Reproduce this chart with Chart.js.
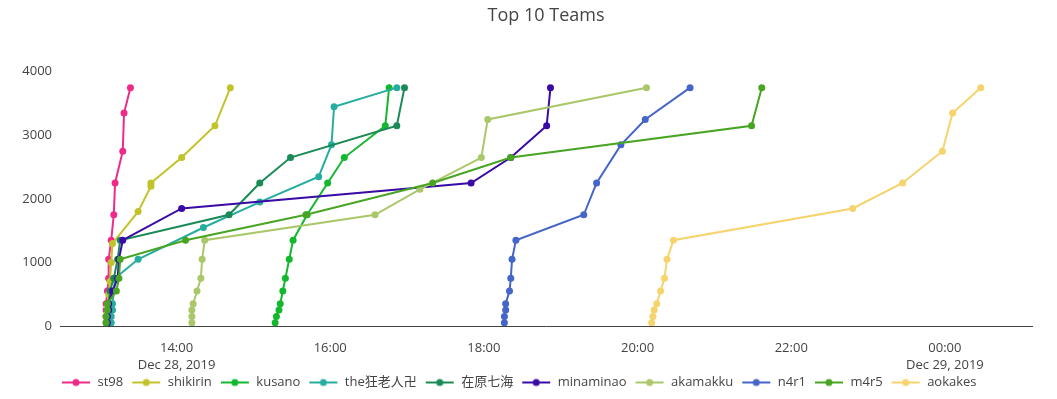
<!DOCTYPE html>
<html>
<head>
<meta charset="utf-8">
<title>Top 10 Teams</title>
<script src="https://cdn.jsdelivr.net/npm/chart.js@4/dist/chart.umd.min.js"></script>
<style>
  body { margin: 0; background: #fff; }
  #wrap { width: 1057px; height: 399px; position: relative; }
</style>
</head>
<body>
<div id="wrap"><canvas id="chart"></canvas></div>
<script>
const FONT = "'Open Sans', 'Noto Sans CJK JP', sans-serif";

const titleText = 'Top 10 Teams';
const teams = ['st98', 'shikirin', 'kusano', 'the狂老人卍', '在原七海', 'minaminao', 'akamakku', 'n4r1', 'm4r5', 'aokakes'];
const colors = ['#ee2b88', '#c2c32a', '#14b82e', '#27ada0', '#1a8b56', '#3a0aa6', '#aac86a', '#4565c9', '#48a523', '#f6d36c'];

// solve times on Dec 28 2019 (hours >= 24 spill into Dec 29) and cumulative score
const st98Times = ['13:05', '13:05', '13:05', '13:05', '13:06', '13:07', '13:07', '13:09', '13:11', '13:12', '13:18', '13:19', '13:24'];
const st98Scores = [50, 150, 250, 350, 550, 750, 1050, 1350, 1750, 2250, 2750, 3350, 3750];

const shikirinTimes = ['13:06', '13:06', '13:06', '13:07', '13:08', '13:09', '13:10', '13:30', '13:40', '13:40', '14:04', '14:30', '14:42'];
const shikirinScores = [100, 200, 300, 500, 700, 1000, 1300, 1800, 2200, 2250, 2650, 3150, 3750];

const kusanoTimes = ['15:17', '15:18', '15:20', '15:21', '15:23', '15:25', '15:28', '15:31', '15:42', '15:58', '16:11', '16:43', '16:46'];
const kusanoScores = [50, 150, 250, 350, 550, 750, 1050, 1350, 1750, 2250, 2650, 3150, 3750];

const kyoroujinTimes = ['13:09', '13:09', '13:10', '13:10', '13:11', '13:12', '13:30', '14:21', '15:05', '15:51', '16:01', '16:03', '16:52'];
const kyoroujinScores = [50, 150, 250, 350, 550, 750, 1050, 1550, 1950, 2350, 2850, 3450, 3750];

const arimaTimes = ['13:06', '13:06', '13:07', '13:07', '13:08', '13:11', '13:14', '13:16', '14:41', '15:05', '15:29', '16:52', '16:58'];
const arimaScores = [50, 150, 250, 350, 550, 750, 1050, 1350, 1750, 2250, 2650, 3150, 3750];

const minaminaoTimes = ['13:06', '13:06', '13:07', '13:07', '13:10', '13:14', '13:15', '13:18', '14:04', '17:50', '18:21', '18:49', '18:52'];
const minaminaoScores = [50, 150, 250, 350, 550, 750, 1050, 1350, 1850, 2250, 2650, 3150, 3750];

const akamakkuTimes = ['14:12', '14:12', '14:12', '14:13', '14:16', '14:19', '14:20', '14:22', '16:35', '17:10', '17:58', '18:03', '20:07'];
const akamakkuScores = [50, 150, 250, 350, 550, 750, 1050, 1350, 1750, 2150, 2650, 3250, 3750];

const n4r1Times = ['18:16', '18:16', '18:17', '18:17', '18:20', '18:21', '18:22', '18:25', '19:18', '19:28', '19:47', '20:06', '20:41'];
const n4r1Scores = [50, 150, 250, 350, 550, 750, 1050, 1350, 1750, 2250, 2850, 3250, 3750];

const m4r5Times = ['13:05', '13:05', '13:06', '13:06', '13:13', '13:15', '13:16', '14:07', '15:41', '17:20', '18:21', '21:29', '21:37'];
const m4r5Scores = [50, 150, 250, 350, 550, 750, 1050, 1350, 1750, 2250, 2650, 3150, 3750];

const aokakesTimes = ['20:11', '20:12', '20:13', '20:15', '20:18', '20:21', '20:23', '20:28', '22:48', '23:27', '23:58', '24:06', '24:28'];
const aokakesScores = [50, 150, 250, 350, 550, 750, 1050, 1350, 1850, 2250, 2750, 3350, 3750];

const xTickTimes = ['14:00', '16:00', '18:00', '20:00', '22:00', '24:00'];
const xTickText = ['14:00', '16:00', '18:00', '20:00', '22:00', '00:00'];
const xTickDates = ['Dec 28, 2019', '', '', '', '', 'Dec 29, 2019'];
const yTicks = [0, 1000, 2000, 3000, 4000];

const allTimes = [st98Times, shikirinTimes, kusanoTimes, kyoroujinTimes, arimaTimes, minaminaoTimes, akamakkuTimes, n4r1Times, m4r5Times, aokakesTimes];
const allScores = [st98Scores, shikirinScores, kusanoScores, kyoroujinScores, arimaScores, minaminaoScores, akamakkuScores, n4r1Scores, m4r5Scores, aokakesScores];

// "HH:MM" -> minutes since Dec 28 00:00
function toMin(s) {
  const [h, m] = s.split(':').map(Number);
  return h * 60 + m;
}

// plotly style legend symbol: short line with a dot in the middle
function legendIcon(color) {
  const c = document.createElement('canvas');
  c.width = 34; c.height = 10;
  const g = c.getContext('2d');
  g.strokeStyle = color; g.lineWidth = 2;
  g.beginPath(); g.moveTo(5, 5); g.lineTo(33, 5); g.stroke();
  g.fillStyle = color;
  g.beginPath(); g.arc(19, 5, 3.5, 0, Math.PI * 2); g.fill();
  return c;
}

const datasets = teams.map((name, i) => ({
  label: name,
  data: allTimes[i].map((t, j) => ({ x: toMin(t), y: allScores[i][j] })),
  borderColor: colors[i],
  backgroundColor: colors[i],
  pointBackgroundColor: colors[i],
  borderWidth: 2,
  pointRadius: 3.5,
  pointBorderWidth: 0,
  tension: 0,
  order: teams.length - i   // later teams on top, like the original
}));

const legendShift = {
  id: 'legendShift',
  afterLayout(chart) {
    chart.legend.left -= 7;
    chart.legend.right -= 7;
  }
};

Chart.defaults.font.family = FONT;
Chart.defaults.color = '#444';

new Chart(document.getElementById('chart'), {
  type: 'line',
  data: { datasets: datasets },
  plugins: [legendShift],
  options: {
    responsive: true,
    maintainAspectRatio: false,
    animation: false,
    layout: { padding: { top: 0, right: 25, left: 0, bottom: 0 } },
    plugins: {
      tooltip: { enabled: false },
      title: {
        display: true,
        text: titleText,
        fullSize: false,
        color: '#444',
        font: { size: 18, weight: 'normal', lineHeight: 1.2 },
        padding: { top: 5, bottom: 35 }
      },
      legend: {
        position: 'bottom',
        align: 'start',
        fullSize: false,
        labels: {
          usePointStyle: true,
          pointStyleWidth: 34,
          padding: 4,
          color: '#444',
          font: { size: 13 },
          generateLabels: chart => chart.data.datasets.map((ds, i) => ({
            text: ds.label,
            fillStyle: ds.borderColor,
            strokeStyle: ds.borderColor,
            lineWidth: 0,
            pointStyle: legendIcon(ds.borderColor),
            hidden: !chart.isDatasetVisible(i),
            datasetIndex: i,
            fontColor: '#444'
          }))
        }
      }
    },
    scales: {
      x: {
        type: 'linear',
        min: toMin('12:29'),
        max: toMin('25:08'),
        grid: { display: false, drawTicks: false },
        border: { display: true, color: '#444', width: 1 },
        ticks: {
          padding: 14,
          color: '#444',
          font: { size: 13, lineHeight: 1.3 },
          callback: (v, i) => xTickDates[i] ? [xTickText[i], xTickDates[i]] : xTickText[i]
        },
        afterBuildTicks: s => { s.ticks = xTickTimes.map(t => ({ value: toMin(t) })); },
        afterFit: s => { s.height = 46; }
      },
      y: {
        min: 0,
        max: 4160,
        grid: { display: false, drawTicks: false },
        border: { display: false },
        ticks: { padding: 8, color: '#444', font: { size: 13 }, callback: v => String(v) },
        afterBuildTicks: s => { s.ticks = yTicks.map(v => ({ value: v })); },
        afterFit: s => { s.width = 60; }
      }
    }
  }
});
</script>
</body>
</html>
